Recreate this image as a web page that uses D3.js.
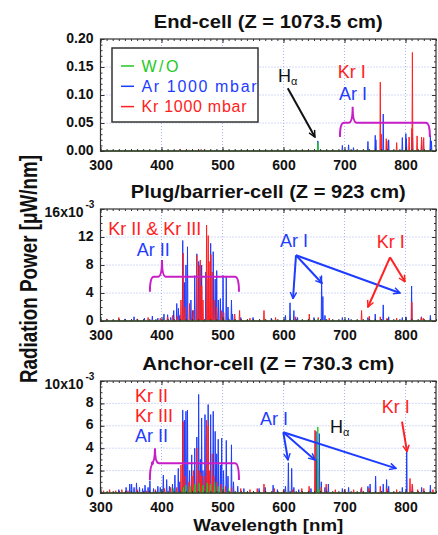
<!DOCTYPE html>
<html>
<head>
<meta charset="utf-8">
<script src="https://cdn.jsdelivr.net/npm/d3@7/dist/d3.min.js"></script>
<style>
  body { margin: 0; background: #fff; }
  text { font-family: "Liberation Sans", Arial, sans-serif; }
</style>
</head>
<body>
<svg id="chart" width="438" height="535"></svg>
<script>
// wavelength [nm] and peak height; end-cell in uW/nm, the other two in 1e-3 uW/nm
const xTicks = [300, 400, 500, 600, 700, 800];
const endTicks = [0, 0.05, 0.10, 0.15, 0.20];
const plugTicks = [0, 4, 8, 12, 16];
const anchorTicks = [0, 2, 4, 6, 8, 10];

const endWo = [[656.3, 0.015]];
const endAr = [[430, 0.002], [470, 0.002], [490, 0.002], [656.3, 0.018], [696.5, 0.010], [706.7, 0.011],
  [714.7, 0.006], [738.4, 0.017], [750.4, 0.028], [751.5, 0.020], [763.5, 0.066], [772.4, 0.020],
  [794.8, 0.024], [800.6, 0.031], [801.5, 0.022], [811.5, 0.030], [826.5, 0.020], [840.8, 0.028], [842.5, 0.018]];
const endKr = [[430, 0.003], [445, 0.002], [465, 0.003], [480, 0.002], [590, 0.002], [758.7, 0.123],
  [760.2, 0.030], [768.5, 0.022], [769.5, 0.018], [785.5, 0.015], [805.9, 0.025], [810.4, 0.040],
  [811.3, 0.176], [819.0, 0.027], [826.3, 0.025], [829.8, 0.024]];

const plugWo = [[656.3, 0.3]];
const plugAr = [[340, 0.3], [355, 0.6], [372, 0.4], [385, 0.7], [394, 0.4], [404, 1.0], [410, 0.9], [415, 0.5],
  [420, 1.5], [425, 2.5], [427.8, 1.8], [430, 0.8], [434.8, 11.5], [437.9, 5.5], [440.1, 8.0], [442.6, 10.6],
  [448.2, 3.0], [451, 1.5], [454.5, 6.5], [457.9, 9.6], [460.9, 8.5], [463.7, 3.5], [465.8, 8.0], [472.7, 7.0],
  [476.5, 6.0], [480.6, 11.1], [484.8, 9.9], [488, 6.0], [490.5, 7.2], [493.3, 3.0], [496.5, 3.2], [500.9, 6.5],
  [506.2, 6.3], [509, 2.0], [514.7, 3.0], [516.5, 1.0], [530, 0.5], [550, 0.5], [580, 0.4], [603.2, 0.8],
  [610.7, 2.6], [617, 1.5], [623, 0.5], [650, 0.5], [662.5, 6.5], [664.5, 3.5], [668, 0.8], [696.5, 0.5],
  [706.7, 0.4], [738.4, 0.5], [750.4, 1.0], [763.5, 2.3], [772.4, 0.6], [794.8, 0.5], [800.6, 0.6],
  [810, 5.0], [826, 0.6], [840.8, 0.8]];
const plugKr = [[310, 0.3], [330, 0.5], [360, 0.3], [378, 0.5], [398, 0.4], [410, 0.6], [418, 0.8], [426, 0.7],
  [431.9, 3.0], [435.5, 9.7], [439, 2.0], [446, 2.5], [452.3, 1.5], [457.7, 9.4], [461.9, 8.0], [463.6, 8.7],
  [465.9, 5.0], [468, 3.0], [473.9, 13.7], [476.6, 12.2], [478, 8.5], [481, 9.5], [483.2, 7.0], [486.5, 3.0],
  [490, 2.0], [498, 1.5], [502, 1.2], [520, 1.0], [528, 1.5], [545, 0.4], [568, 1.5], [587, 0.5], [620, 0.6],
  [642.3, 1.0], [657, 0.5], [675, 0.4], [728, 1.5], [740.7, 0.7], [758.7, 0.6], [769.5, 0.4], [785.5, 0.4],
  [810.4, 2.7], [826, 0.5], [829, 0.4]];

const anchorWo = [[400, 0.3], [420, 0.4], [436, 0.5], [440, 0.7], [447, 0.6], [455, 0.8], [462, 0.9], [468, 0.7],
  [475, 0.9], [480, 0.8], [487, 1.0], [493, 0.6], [500, 0.5], [510, 0.4], [656.3, 5.9], [660, 0.3]];
const anchorAr = [[330, 0.3], [342, 0.5], [348, 0.8], [351, 0.8], [355, 0.5], [359, 0.9], [364, 0.5], [369, 0.4],
  [373, 0.7], [378, 0.5], [381, 1.1], [387, 0.4], [394, 0.6], [398, 0.5], [403, 1.6], [408.5, 1.2], [413, 0.6],
  [418, 0.8], [422, 1.6], [427.5, 2.2], [430, 1.0], [434.8, 7.4], [437.9, 6.5], [440.1, 7.3], [442.6, 7.4],
  [446, 2.0], [449.5, 3.4], [454.5, 4.0], [457.9, 5.0], [460.9, 8.8], [463.7, 3.0], [465.8, 6.7], [468, 2.0],
  [471.3, 7.0], [473.6, 5.0], [476.5, 7.9], [480.6, 7.0], [484.8, 7.3], [488, 5.5], [490.5, 3.5], [493, 4.8],
  [496.5, 2.5], [498.7, 4.9], [501.7, 2.0], [506.2, 4.7], [509, 1.5], [514.7, 4.3], [518, 1.0], [525, 0.6],
  [535, 0.4], [560, 0.4], [570, 0.5], [583, 0.7], [590, 0.3], [603.2, 0.6], [608, 2.7], [613.4, 2.2],
  [617, 0.5], [625, 0.3], [645, 0.4], [653.3, 5.5], [655, 3.0], [658.7, 5.3], [662, 1.0], [668, 0.5],
  [673.5, 0.8], [696.5, 0.4], [706.7, 0.5], [727.3, 0.4], [738.4, 0.6], [742, 0.8], [751, 1.5], [763.5, 0.8],
  [769, 1.2], [772.4, 0.6], [794.8, 0.5], [802, 4.2], [811.5, 0.6], [826.5, 0.5], [840.8, 0.7]];
const anchorKr = [[305, 0.2], [315, 0.3], [325, 0.2], [335, 0.3], [345, 0.2], [360, 0.3], [375, 0.2], [390, 0.3],
  [405, 0.4], [415, 0.5], [425, 0.5], [431.9, 2.5], [435.5, 6.4], [439, 1.5], [445, 1.0], [450, 1.5],
  [452.3, 2.0], [457.7, 4.0], [461.9, 2.0], [463.6, 1.8], [465.9, 1.5], [470, 1.5], [473.9, 6.5], [476.6, 6.0],
  [479, 2.0], [483.2, 3.5], [486, 1.5], [490, 1.0], [498, 0.8], [505, 0.6], [515, 0.5], [530, 0.4], [545, 0.3],
  [557, 0.4], [568, 0.8], [585, 0.4], [600, 0.3], [615, 0.3], [630, 0.4], [642, 0.6], [651.6, 5.6], [656, 2.0],
  [662, 0.5], [670, 0.8], [685, 0.3], [700, 0.3], [715, 0.3], [728, 0.5], [740, 0.4], [758.7, 0.6],
  [769.5, 0.4], [785.5, 0.3], [807.4, 1.3], [811, 0.8], [820, 0.3], [830, 0.4], [845, 0.3]];

const green = "#22c922", blue = "#1e3cff", red = "#ff2020", magenta = "#c81ec8";

// annotations, in data coordinates of each panel
const endNotes = {
  texts: [{ t: "Kr I", c: red, x: 689, y: 0.130 }, { t: "Ar I", c: blue, x: 691, y: 0.091 }, { t: "H", sub: "α", c: "#111", x: 591, y: 0.123 }],
  arrows: [{ c: "#111", from: [607, 0.112], to: [[651.5, 0.025]] }],
  braces: [{ x1: 692.5, x2: 840, tip: 713.4, y: 0.0505, low: 0.025, high: 0.079 }]
};
const plugNotes = {
  texts: [{ t: "Kr II & Kr III", c: red, x: 312.8, y: 12.3 }, { t: "Ar II", c: blue, x: 359.3, y: 9.3 },
    { t: "Ar I", c: blue, x: 594.3, y: 10.6 }, { t: "Kr I", c: red, x: 752.8, y: 10.4 }],
  arrows: [{ c: blue, from: [620.5, 9.4], to: [[615.6, 3.2], [663.1, 5.4], [791, 4.0]] },
    { c: red, from: [774.6, 9.1], to: [[738.5, 2.0], [799.2, 5.6]] }],
  braces: [{ x1: 381, x2: 527, tip: 400.8, y: 6.33, low: 4.19, high: 8.71 }]
};
const anchorNotes = {
  texts: [{ t: "Kr II", c: red, x: 356.6, y: 8.15 }, { t: "Kr III", c: red, x: 356.6, y: 6.31 },
    { t: "Ar II", c: blue, x: 356.6, y: 4.53 }, { t: "Ar I", c: blue, x: 561.5, y: 6.07 },
    { t: "H", sub: "α", c: "#111", x: 676.2, y: 5.36 }, { t: "Kr I", c: red, x: 761, y: 7.12 }],
  arrows: [{ c: blue, from: [599.7, 5.42], to: [[607.4, 2.95], [651.6, 2.95], [784.4, 2.2]] },
    { c: red, from: [794.3, 6.37], to: [[802.5, 3.69]] }],
  braces: [{ x1: 381, x2: 527, tip: 389.3, y: 2.65, low: 1.16, high: 3.99 }]
};

const svg = d3.select("#chart");
const left = 100.5, right = 436, ph = 112;
const x = d3.scaleLinear().domain([300, 850]).range([left, right]);

const panels = [
  { top: 39, title: "End-cell (Z = 1073.5 cm)", tlen: 229, ticks: endTicks, minor: 0.01, fmt: d3.format(".2f"),
    exp: false, series: [[endAr, blue], [endKr, red], [endWo, green]], notes: endNotes },
  { top: 209, title: "Plug/barrier-cell (Z = 923 cm)", tlen: 275, ticks: plugTicks, minor: 1, fmt: d3.format("d"),
    exp: true, series: [[plugAr, blue], [plugKr, red], [plugWo, green]], notes: plugNotes },
  { top: 381, title: "Anchor-cell (Z = 730.3 cm)", tlen: 252, ticks: anchorTicks, minor: 0.5, fmt: d3.format("d"),
    exp: true, series: [[anchorAr, blue], [anchorKr, red], [anchorWo, green]], notes: anchorNotes }
];

// arrow markers
const defs = svg.append("defs");
[["#111", "k"], [blue, "b"], [red, "r"]].forEach(([c, id]) => {
  defs.append("marker").attr("id", "arr-" + id)
    .attr("viewBox", "0 0 10 10").attr("refX", 9).attr("refY", 5)
    .attr("markerWidth", 8).attr("markerHeight", 8)
    .attr("markerUnits", "userSpaceOnUse").attr("orient", "auto")
    .append("path").attr("d", "M1,1 L9,5 L1,9")
    .attr("fill", "none").attr("stroke", c).attr("stroke-width", 1.8);
});
const markerId = c => c === blue ? "b" : c === red ? "r" : "k";

// turn a list of peaks into a spiky line
function spikes(peaks) {
  const hw = 0.7;
  const pts = [[300, 0]];
  peaks.slice().sort((a, b) => a[0] - b[0]).forEach(([l, h]) => {
    pts.push([l - hw, 0], [l, h], [l + hw, 0]);
  });
  pts.push([850, 0]);
  return pts;
}

panels.forEach((p, i) => {
  const max = p.ticks[p.ticks.length - 1];
  const y = d3.scaleLinear().domain([0, max]).range([p.top + ph, p.top]);
  const g = svg.append("g");

  // title
  g.append("text").attr("x", (left + right) / 2).attr("y", p.top - 11)
    .attr("text-anchor", "middle").attr("font-size", 19).attr("font-weight", "bold")
    .attr("textLength", p.tlen).attr("lengthAdjust", "spacingAndGlyphs").attr("fill", "#111")
    .text(p.title);

  // grid
  const grid = g.append("g").attr("stroke", "#a9b6f0").attr("stroke-width", 1).attr("stroke-dasharray", "1,2");
  xTicks.slice(1).forEach(t => grid.append("line").attr("x1", x(t)).attr("x2", x(t)).attr("y1", p.top).attr("y2", p.top + ph));
  p.ticks.slice(1, -1).forEach(t => grid.append("line").attr("x1", left).attr("x2", right).attr("y1", y(t)).attr("y2", y(t)));

  // spectra
  const clipId = "clip" + i;
  defs.append("clipPath").attr("id", clipId).append("rect")
    .attr("x", left).attr("y", p.top).attr("width", right - left).attr("height", ph + 1.5);
  const line = d3.line().x(d => x(d[0])).y(d => y(d[1]));
  const sg = g.append("g").attr("clip-path", `url(#${clipId})`);
  p.series.forEach(([data, c]) => {
    sg.append("path").attr("d", line(spikes(data)))
      .attr("fill", "none").attr("stroke", c).attr("stroke-width", 1).attr("stroke-linejoin", "round");
  });

  // frame
  g.append("rect").attr("x", left).attr("y", p.top).attr("width", right - left).attr("height", ph)
    .attr("fill", "none").attr("stroke", "#333").attr("stroke-width", 1.2);

  // axes: major and minor ticks, all four sides, pointing in
  const minorX = d3.range(300, 851, 10);
  const minorY = d3.range(0, max + 1e-9, p.minor);
  const styleAxis = sel => {
    sel.select(".domain").remove();
    sel.selectAll("line").attr("stroke", "#333");
    sel.selectAll("text").attr("font-size", 14).attr("font-weight", "bold").attr("fill", "#111")
      .attr("font-family", "'Liberation Sans', Arial, sans-serif");
  };
  g.append("g").attr("transform", `translate(0,${p.top + ph})`)
    .call(d3.axisBottom(x).tickValues(xTicks).tickSize(-4).tickPadding(9).tickSizeOuter(0)).call(styleAxis);
  g.append("g").attr("transform", `translate(0,${p.top + ph})`)
    .call(d3.axisBottom(x).tickValues(minorX).tickSize(-2).tickFormat("").tickSizeOuter(0)).call(styleAxis);
  g.append("g").attr("transform", `translate(0,${p.top})`)
    .call(d3.axisTop(x).tickValues(xTicks).tickSize(-4).tickFormat("").tickSizeOuter(0)).call(styleAxis);
  g.append("g").attr("transform", `translate(0,${p.top})`)
    .call(d3.axisTop(x).tickValues(minorX).tickSize(-2).tickFormat("").tickSizeOuter(0)).call(styleAxis);
  g.append("g").attr("transform", `translate(${left},0)`)
    .call(d3.axisLeft(y).tickValues(p.ticks).tickSize(-4).tickPadding(7).tickSizeOuter(0)
      .tickFormat(d => (p.exp && d === max) ? "" : p.fmt(d))).call(styleAxis)
    .selectAll("text").attr("dy", "0.22em");
  g.append("g").attr("transform", `translate(${left},0)`)
    .call(d3.axisLeft(y).tickValues(minorY).tickSize(-2).tickFormat("").tickSizeOuter(0)).call(styleAxis);
  g.append("g").attr("transform", `translate(${right},0)`)
    .call(d3.axisRight(y).tickValues(p.ticks).tickSize(-4).tickFormat("").tickSizeOuter(0)).call(styleAxis);
  g.append("g").attr("transform", `translate(${right},0)`)
    .call(d3.axisRight(y).tickValues(minorY).tickSize(-2).tickFormat("").tickSizeOuter(0)).call(styleAxis);

  if (p.exp) {
    g.append("text").attr("x", left - 17).attr("y", p.top + 8).attr("text-anchor", "end")
      .attr("font-size", 14).attr("font-weight", "bold").attr("fill", "#111").text(max + "x10");
    g.append("text").attr("x", left - 15).attr("y", p.top - 1)
      .attr("font-size", 10).attr("font-weight", "bold").attr("fill", "#111").text("-3");
  }

  // annotations
  const n = p.notes;
  n.braces.forEach(b => {
    const x1 = x(b.x1), x2 = x(b.x2), xt = x(b.tip), yh = y(b.y), yl = y(b.low), yt = y(b.high);
    const r = 4;
    const d = `M${x1},${yl} Q${x1},${yh} ${x1 + r},${yh} L${xt - r},${yh} Q${xt},${yh} ${xt},${yt}` +
      ` M${xt},${yt} Q${xt},${yh} ${xt + r},${yh} L${x2 - r},${yh} Q${x2},${yh} ${x2},${yl}`;
    g.append("path").attr("d", d).attr("fill", "none").attr("stroke", magenta).attr("stroke-width", 2);
  });
  n.arrows.forEach(a => {
    a.to.forEach(t => {
      g.append("line").attr("x1", x(a.from[0])).attr("y1", y(a.from[1]))
        .attr("x2", x(t[0])).attr("y2", y(t[1]))
        .attr("stroke", a.c).attr("stroke-width", 2)
        .attr("marker-end", `url(#arr-${markerId(a.c)})`);
    });
  });
  n.texts.forEach(t => {
    const tx = g.append("text").attr("x", x(t.x)).attr("y", y(t.y))
      .attr("font-size", 18).attr("fill", t.c).text(t.t);
    if (t.sub) tx.append("tspan").attr("dy", 3).attr("font-size", 11).text(t.sub);
  });

  // legend in the first panel
  if (i === 0) {
    const lg = g.append("g");
    lg.append("rect").attr("x", 112).attr("y", 48).attr("width", 146).attr("height", 74)
      .attr("fill", "#fff").attr("stroke", "#333").attr("stroke-width", 1.5);
    const items = [["W/O", green, 37], ["Ar 1000 mbar", blue, 115], ["Kr 1000 mbar", red, 105]];
    items.forEach(([t, c, len], k) => {
      const yy = 66 + k * 20.3;
      lg.append("line").attr("x1", 121).attr("x2", 134).attr("y1", yy).attr("y2", yy)
        .attr("stroke", c).attr("stroke-width", 1.5);
      lg.append("text").attr("x", 141.5).attr("y", yy + 5.5).attr("font-size", 16).attr("fill", c)
        .attr("textLength", len).attr("lengthAdjust", "spacing").text(t);
    });
  }
});

// axis titles
svg.append("text").attr("x", (left + right) / 2).attr("y", 530.5).attr("text-anchor", "middle")
  .attr("font-size", 17).attr("font-weight", "bold").attr("fill", "#111")
  .attr("textLength", 150).attr("lengthAdjust", "spacingAndGlyphs").text("Wavelength [nm]");
svg.append("text").attr("transform", "translate(37,269) rotate(-90)").attr("text-anchor", "middle")
  .attr("font-size", 23).attr("font-weight", "bold").attr("fill", "#111")
  .attr("textLength", 228).attr("lengthAdjust", "spacingAndGlyphs").text("Radiation Power [μW/nm]");
</script>
</body>
</html>
